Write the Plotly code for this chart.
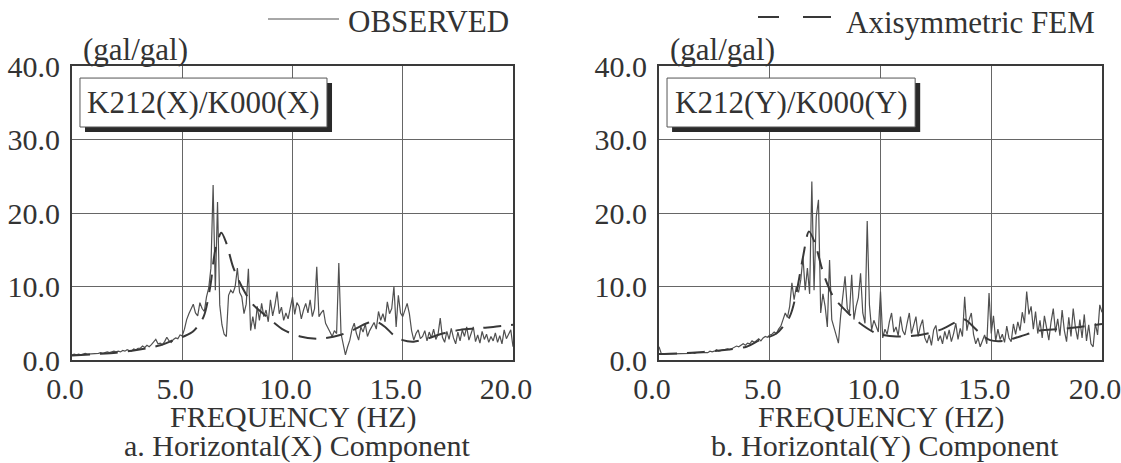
import plotly.graph_objects as go
from plotly.subplots import make_subplots

W, H = 1121, 463

# ---------------- data ----------------
freq_obs = [round(i * 0.1, 1) for i in range(201)]

obs_x = [
    0.7, 0.8, 0.7, 0.8, 0.7, 0.8, 0.9, 0.8, 0.8, 0.9, 0.9,
    0.8, 0.9, 1.0, 0.9, 1.0, 1.1, 1.0, 1.1, 1.2, 1.1,
    1.2, 1.1, 1.3, 1.2, 1.4, 1.3, 1.2, 1.5, 1.4, 1.6,
    1.6, 1.9, 1.7, 2.0, 1.8, 2.1, 2.4, 2.8, 2.2, 2.3,
    2.1, 2.5, 3.1, 2.6, 2.4, 2.8, 3.0, 2.9, 3.4, 3.3,
    4.2, 5.5, 6.3, 7.0, 7.6, 6.4, 6.0, 7.8, 7.0, 6.6,
    8.6, 9.8, 12.5, 23.8, 9.5, 21.5, 7.5, 4.8, 3.5, 3.2,
    8.8, 9.5, 9.1, 10.0, 12.5, 9.2, 8.6, 6.3, 7.6, 12.4,
    4.0, 5.9, 4.2, 7.3, 5.4, 7.7, 5.9, 6.8, 5.2, 8.2,
    6.0, 7.4, 9.3, 6.3, 7.2, 5.4, 6.4, 5.6, 7.0, 8.6,
    6.2, 7.8, 7.3, 5.6, 6.8, 7.7, 6.4, 8.2, 5.9, 7.0,
    12.7, 5.9, 6.4, 6.8, 5.0, 4.5, 3.8, 3.2, 4.0, 3.6,
    13.2, 3.6, 2.0, 0.7, 1.8, 2.7, 4.2, 5.0, 3.6, 2.7,
    4.5, 3.8, 4.9, 3.2, 4.0, 4.5, 5.1, 4.2, 6.6, 5.4,
    6.3, 5.2, 7.9, 6.3, 7.0, 10.0, 4.5, 8.8, 6.4, 5.9,
    6.8, 7.7, 6.3, 4.0, 2.7, 3.6, 4.1, 2.9, 3.2, 4.0,
    2.6, 3.8, 3.0, 4.2, 2.8, 3.5, 5.7, 3.1, 2.4, 3.9,
    2.8, 4.3, 3.0, 2.2, 3.8, 2.6, 4.1, 3.2, 4.5, 2.7,
    3.6, 4.5, 2.5, 3.4, 2.3, 3.9, 2.8, 3.5, 2.4, 3.2,
    2.6, 3.7, 2.4, 3.3, 2.2, 4.1, 2.9, 3.6, 4.1, 1.8,
]

obs_y = [
    1.8, 0.9, 0.8, 0.8, 0.9, 0.8, 0.8, 0.9, 0.8, 0.9, 0.8,
    0.9, 0.8, 0.9, 0.9, 1.0, 0.9, 1.0, 1.0, 1.1, 1.0,
    1.1, 1.0, 1.2, 1.1, 1.2, 1.4, 1.2, 1.3, 1.3, 1.4,
    1.5, 1.4, 1.6, 1.7, 1.9, 1.8, 2.0, 2.2, 2.0, 2.3,
    2.2, 2.6, 2.4, 2.7, 2.9, 2.6, 3.0, 3.2, 3.1, 3.4,
    3.5, 3.8, 3.6, 4.2, 4.6, 5.5, 6.4, 5.8, 7.3, 10.5,
    8.2, 10.0, 9.2, 10.9, 14.0, 9.5, 12.5, 9.0, 24.3, 9.5,
    19.5, 21.8, 6.4, 9.0, 7.3, 4.5, 13.6, 5.5, 4.5, 3.5,
    2.3, 6.0, 9.1, 11.4, 7.0, 6.4, 11.6, 5.5, 7.3, 8.5,
    11.8, 6.4, 5.0, 18.9, 7.5, 4.1, 5.4, 4.6, 3.8, 9.3,
    3.0, 4.2, 3.5, 5.2, 6.4, 3.8, 4.5, 3.3, 5.9, 4.0,
    3.4, 5.0, 6.4, 3.6, 4.8, 5.9, 3.2, 4.6, 5.5, 3.0,
    2.3, 3.4, 2.0, 4.1, 4.7, 2.6, 3.3, 2.2, 3.9, 2.8,
    4.1, 2.5, 3.6, 5.0, 2.8, 4.3, 3.2, 8.6, 4.0, 5.5,
    6.4, 3.5, 2.2, 3.0, 1.8, 2.6, 3.4, 2.2, 9.1, 3.6,
    6.0, 2.6, 4.2, 2.8, 3.5, 2.4, 4.6, 3.0, 2.5, 4.9,
    3.5, 5.2, 4.0, 6.5, 5.0, 9.3, 6.2, 7.3, 4.2, 6.6,
    3.6, 5.4, 3.0, 6.0, 4.1, 2.7, 5.2, 7.0, 3.8, 5.6,
    3.3, 6.8, 4.0, 2.5, 5.8, 3.2, 7.0, 4.4, 2.8, 5.5,
    3.0, 6.2, 2.6, 4.8, 2.2, 1.8, 5.0, 3.4, 7.5, 6.5,
]

fem_x_freq = [0, 1, 2, 3, 4, 4.6, 5.06, 5.5, 5.97, 6.27, 6.5, 6.77, 7.0, 7.3,
              7.7, 8.16, 8.84, 9.6, 10.35, 11.25, 12.16, 12.76, 13.37, 13.8,
              14.2, 14.58, 15.0, 15.5, 16.1, 16.8, 17.6, 18.35, 19.1, 20]
fem_x = [0.6, 0.8, 1.0, 1.4, 2.0, 2.7, 3.2, 3.9, 5.9, 10.0, 15.0, 17.3, 15.9,
         12.7, 10.0, 7.7, 5.9, 4.1, 3.2, 2.9, 3.4, 4.1, 5.0, 5.2, 4.5, 3.4,
         2.7, 2.5, 2.9, 3.6, 4.1, 4.3, 4.5, 4.8]

fem_y_freq = [0, 1, 2, 2.74, 3.95, 4.55, 5.3, 5.9, 6.2, 6.5, 6.77, 7.04, 7.42,
              7.87, 8.47, 9.07, 9.83, 10.73, 11.79, 12.69, 13.44, 13.8, 14.2,
              14.57, 14.95, 15.55, 16.3, 17.2, 18.1, 19.0, 20]
fem_y = [0.8, 0.9, 1.1, 1.3, 1.8, 2.7, 3.6, 5.9, 9.1, 14.0, 17.5, 15.9, 11.8,
         8.6, 6.6, 5.0, 3.6, 3.2, 3.4, 4.1, 5.2, 5.5, 4.5, 3.4, 2.7, 2.6, 3.2,
         4.0, 4.2, 4.5, 4.9]

x_ticks = [0, 5, 10, 15, 20]
x_tick_text = ["0.0", "5.0", "10.0", "15.0", "20.0"]
y_ticks = [0, 10, 20, 30, 40]
y_tick_text = ["0.0", "10.0", "20.0", "30.0", "40.0"]

box_labels = ["K212(X)/K000(X)", "K212(Y)/K000(Y)"]
captions = ["a. Horizontal(X) Component", "b. Horizontal(Y) Component"]
unit_label = "(gal/gal)"
x_title = "FREQUENCY (HZ)"
legend_obs = "OBSERVED"
legend_fem = "Axisymmetric FEM"

# ---------------- styling ----------------
FONT = "Liberation Serif"
TXT = "#333333"
OBS_C = "#505050"
FEM_C = "#383838"
GRID_C = "#666666"

def px(x):
    return x / W

def py(y):
    return 1 - y / H

left_dom = [px(72), px(513)]
right_dom = [px(659), px(1102)]
y_dom = [py(360), py(66)]

fig = make_subplots(rows=1, cols=2)

fig.add_trace(go.Scatter(x=freq_obs, y=obs_x, mode="lines",
                         line=dict(color=OBS_C, width=1.2), name=legend_obs,
                         showlegend=False), row=1, col=1)
fig.add_trace(go.Scatter(x=fem_x_freq, y=fem_x, mode="lines",
                         line=dict(color=FEM_C, width=2, dash="18px,10px", shape="spline", smoothing=0.8),
                         name=legend_fem, showlegend=False), row=1, col=1)
fig.add_trace(go.Scatter(x=freq_obs, y=obs_y, mode="lines",
                         line=dict(color=OBS_C, width=1.2), name=legend_obs,
                         showlegend=False), row=1, col=2)
fig.add_trace(go.Scatter(x=fem_y_freq, y=fem_y, mode="lines",
                         line=dict(color=FEM_C, width=2, dash="18px,10px", shape="spline", smoothing=0.8),
                         name=legend_fem, showlegend=False), row=1, col=2)

axis_common = dict(showgrid=True, gridcolor=GRID_C, gridwidth=1, zeroline=False,
                   showline=True, linecolor="#3a3a3a", linewidth=2, mirror=True,
                   automargin=False, ticklabeloverflow="allow",
                   ticks="", tickfont=dict(family=FONT, size=30, color=TXT))

for i, dom in enumerate([left_dom, right_dom], start=1):
    xa = "xaxis" if i == 1 else "xaxis2"
    ya = "yaxis" if i == 1 else "yaxis2"
    fig.update_layout(**{
        xa: dict(domain=dom, range=[0, 20], tickvals=x_ticks, ticktext=x_tick_text,
                 ticklabelshift=-7, ticklabelstandoff=1, **axis_common),
        ya: dict(domain=y_dom, range=[0, 40], tickvals=y_ticks, ticktext=y_tick_text,
                 ticklabelstandoff=4, **axis_common),
    })

shapes = []
annotations = []
for i, dom in enumerate([left_dom, right_dom], start=1):
    xr = "x domain" if i == 1 else "x2 domain"
    yr = "y domain" if i == 1 else "y2 domain"
    # shadow
    shapes.append(dict(type="rect", xref=xr, yref=yr, x0=0.0295, x1=0.5896,
                       y0=0.7755, y1=0.942, fillcolor="#2a2a2a", line=dict(width=0),
                       layer="above"))
    # box
    shapes.append(dict(type="rect", xref=xr, yref=yr, x0=0.0181, x1=0.5782,
                       y0=0.7925, y1=0.959, fillcolor="white",
                       line=dict(color="#555555", width=1), layer="above"))
    annotations.append(dict(text=box_labels[i - 1], xref=xr, yref=yr, x=0.298, y=0.876,
                            showarrow=False, xanchor="center", yanchor="middle",
                            font=dict(family=FONT, size=31, color=TXT)))
    cx = (dom[0] + dom[1]) / 2
    annotations.append(dict(text=x_title, xref="paper", yref="paper", x=cx, y=py(417),
                            showarrow=False, xanchor="center", yanchor="middle",
                            font=dict(family=FONT, size=30, color=TXT)))
    annotations.append(dict(text=captions[i - 1], xref="paper", yref="paper", x=cx + 4 / W,
                            y=py(446), showarrow=False, xanchor="center", yanchor="middle",
                            font=dict(family=FONT, size=30, color=TXT)))
    annotations.append(dict(text=unit_label, xref="paper", yref="paper",
                            x=dom[0] + 9 / W, y=py(50), showarrow=False,
                            xanchor="left", yanchor="middle",
                            font=dict(family=FONT, size=31, color=TXT)))

# legend samples
shapes.append(dict(type="line", xref="paper", yref="paper", x0=px(268), x1=px(339),
                   y0=py(19), y1=py(19), line=dict(color=OBS_C, width=1)))
annotations.append(dict(text=legend_obs, xref="paper", yref="paper", x=px(346), y=py(21),
                        showarrow=False, xanchor="left", yanchor="middle",
                        font=dict(family=FONT, size=31, color=TXT)))
shapes.append(dict(type="line", xref="paper", yref="paper", x0=px(758), x1=px(779),
                   y0=py(17), y1=py(17), line=dict(color=FEM_C, width=2)))
shapes.append(dict(type="line", xref="paper", yref="paper", x0=px(803), x1=px(831),
                   y0=py(17), y1=py(17), line=dict(color=FEM_C, width=2)))
annotations.append(dict(text=legend_fem, xref="paper", yref="paper", x=px(844), y=py(22),
                        showarrow=False, xanchor="left", yanchor="middle",
                        font=dict(family=FONT, size=31, color=TXT)))

fig.update_layout(width=W, height=H, autosize=False,
                  margin=dict(l=0, r=0, t=0, b=0, pad=0, autoexpand=False),
                  paper_bgcolor="white", plot_bgcolor="white",
                  shapes=shapes, annotations=annotations, showlegend=False,
                  font=dict(family=FONT, color=TXT))

# remove the browser's default 8px page margin so the figure fills the window exactly
fig.write_html("out.html", config={"displayModeBar": False},
               post_script="document.body.style.margin='0';document.body.style.overflow='hidden';")
